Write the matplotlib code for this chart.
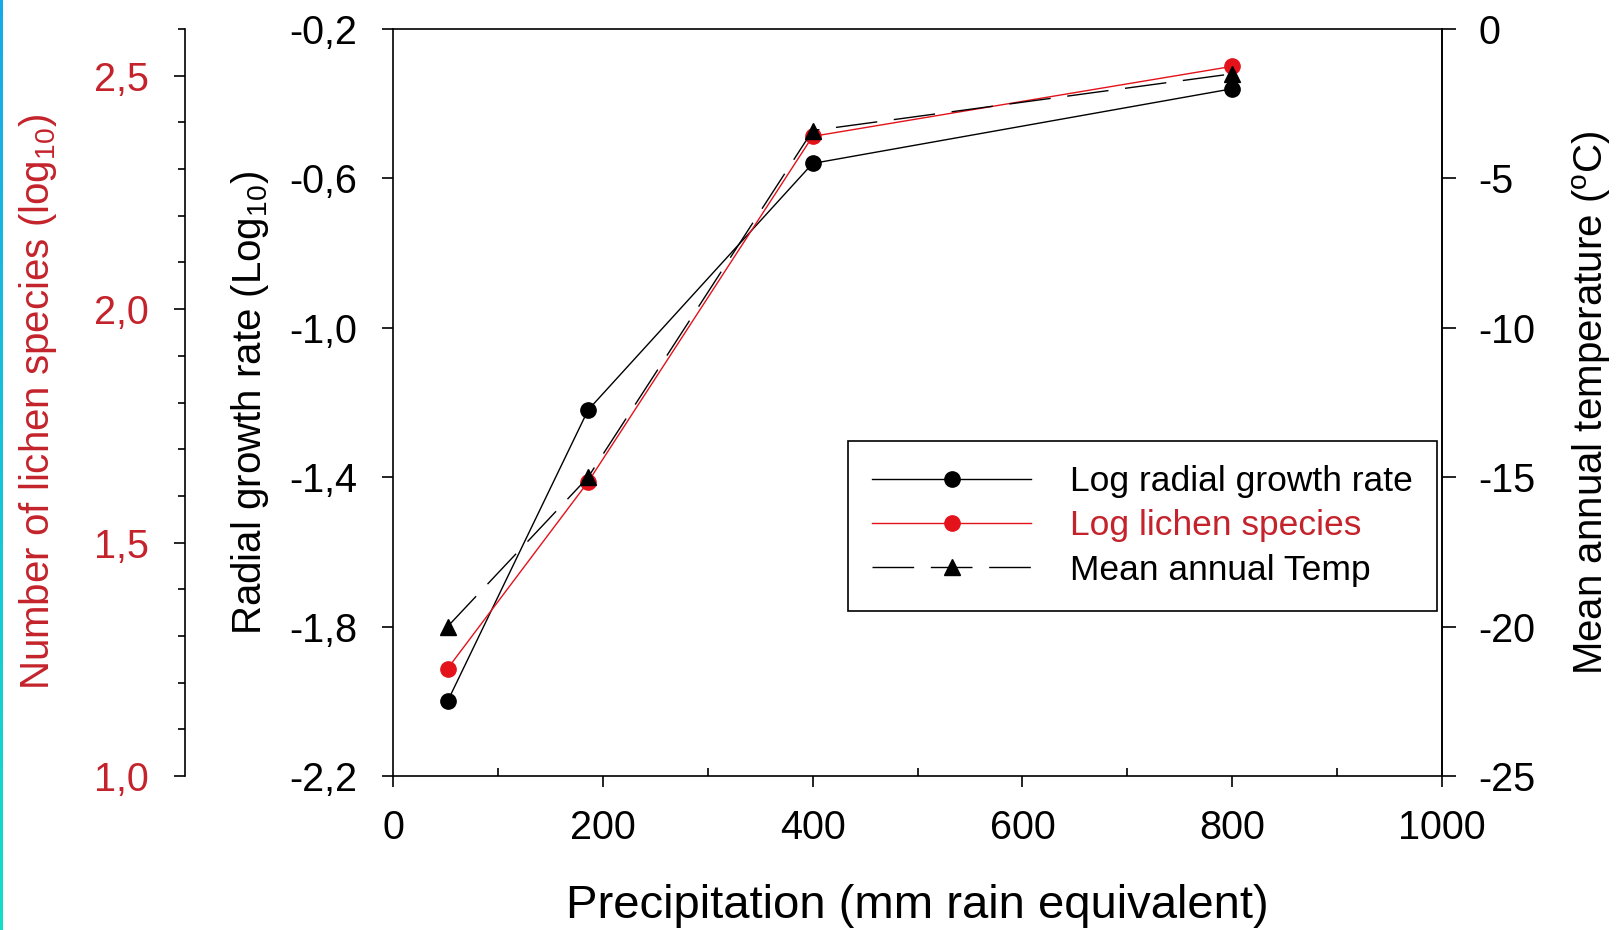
import matplotlib
matplotlib.use("Agg")
import matplotlib.pyplot as plt
import numpy as np
from matplotlib.ticker import FixedLocator, MultipleLocator, FuncFormatter
from matplotlib.colors import LinearSegmentedColormap

plt.rcParams["font.family"] = ["Liberation Sans", "DejaVu Sans"]
plt.rcParams["mathtext.fontset"] = "custom"
plt.rcParams["mathtext.rm"] = "Liberation Sans"
plt.rcParams["mathtext.it"] = "Liberation Sans:italic"

# ---- data ----
precip = [52, 186, 400, 800]                 # mm rain equivalent
growth_log = [-2.00, -1.22, -0.56, -0.36]    # log10 radial growth rate
lichen_log = [1.23, 1.63, 2.37, 2.52]        # log10 number of lichen species
mean_temp = [-20.0, -15.0, -3.4, -1.5]       # mean annual temperature (°C)

growth_ticks = [-2.2, -1.8, -1.4, -1.0, -0.6, -0.2]
lichen_ticks = [1.0, 1.5, 2.0, 2.5]
temp_ticks = [-25, -20, -15, -10, -5, 0]
precip_ticks = [0, 200, 400, 600, 800, 1000]

legend_labels = ["Log radial growth rate", "Log lichen species", "Mean annual Temp"]

RED_TEXT = "#C4232B"
RED_MARK = "#E3121B"
TICK_FS = 28.5
LABEL_FS = 29

W, H = 1618, 930
fig = plt.figure(figsize=(W / 100, H / 100), dpi=100)
fig.patch.set_facecolor("white")

L, R, T, B = 393, 1442, 29, 776
ax = fig.add_axes([L / W, 1 - B / H, (R - L) / W, (B - T) / H])


def comma(v, _pos=None):
    return f"{v:.1f}".replace(".", ",")


def plain_int(v, _pos=None):
    return f"{int(round(v))}"


# main axis: radial growth
ax.plot(precip, growth_log, color="black", lw=1.0, marker="o", ms=11,
        zorder=3, label=legend_labels[0])
ax.set_xlim(0, 1000)
ax.set_ylim(-2.2, -0.2)
ax.xaxis.set_major_locator(FixedLocator(precip_ticks))
ax.xaxis.set_minor_locator(MultipleLocator(100))
ax.xaxis.set_major_formatter(FuncFormatter(plain_int))
ax.yaxis.set_major_locator(FixedLocator(growth_ticks))
ax.yaxis.set_major_formatter(FuncFormatter(comma))
ax.tick_params(axis="x", which="major", direction="out", length=8, width=1.2,
               labelsize=TICK_FS, pad=16)
ax.tick_params(axis="x", which="minor", direction="in", length=6, width=1.2)
ax.tick_params(axis="y", which="major", direction="out", length=8, width=1.2,
               labelsize=TICK_FS, pad=18)
for s in ax.spines.values():
    s.set_linewidth(1.2)

# secondary left axis: lichen species (red)
ax_red = ax.twinx()
ax_red.set_ylim(1.0, 2.6)
for side in ("right", "top", "bottom"):
    ax_red.spines[side].set_visible(False)
ax_red.spines["left"].set_visible(True)
ax_red.spines["left"].set_position(("axes", (185 - L) / (R - L)))
ax_red.spines["left"].set_linewidth(1.2)
ax_red.yaxis.set_ticks_position("left")
ax_red.yaxis.set_major_locator(FixedLocator(lichen_ticks))
ax_red.yaxis.set_minor_locator(MultipleLocator(0.1))
ax_red.yaxis.set_major_formatter(FuncFormatter(comma))
ax_red.tick_params(axis="y", which="major", direction="out", length=8, width=1.2,
                   labelsize=TICK_FS, labelcolor=RED_TEXT, pad=18)
ax_red.tick_params(axis="y", which="minor", direction="out", length=5, width=1.2)
ax_red.plot(precip, lichen_log, color=RED_MARK, lw=1.0, marker="o", ms=11,
            zorder=3, label=legend_labels[1])

# right axis: temperature
ax_t = ax.twinx()
ax_t.set_ylim(-25, 0)
for side in ("left", "top", "bottom"):
    ax_t.spines[side].set_visible(False)
ax_t.spines["right"].set_linewidth(1.2)
ax_t.yaxis.set_major_locator(FixedLocator(temp_ticks))
ax_t.yaxis.set_major_formatter(FuncFormatter(plain_int))
ax_t.tick_params(axis="y", which="major", direction="out", length=10, width=1.2,
                 labelsize=TICK_FS, pad=16)
ax_t.plot(precip, mean_temp, color="black", lw=1.0, ls=(0, (30, 12)),
          marker="^", ms=11, zorder=3, label=legend_labels[2])

# axis titles
ax.text((250 - L) / (R - L), 0.5, r"Radial growth rate (Log$_{10}$)",
        transform=ax.transAxes, rotation=90, ha="center", va="center",
        fontsize=LABEL_FS)
ax.text((38 - L) / (R - L), 0.5, r"Number of lichen species (log$_{10}$)",
        transform=ax.transAxes, rotation=90, ha="center", va="center",
        fontsize=LABEL_FS, color=RED_TEXT)
ax.text((1592 - L) / (R - L), 0.5, r"Mean annual temperature ($^{\mathrm{o}}$C)",
        transform=ax.transAxes, rotation=90, ha="center", va="center",
        fontsize=LABEL_FS)
fig.text(((L + R) / 2) / W, 1 - 918 / H, "Precipitation (mm rain equivalent)",
         ha="center", va="baseline", fontsize=34)

# legend
handles = ax.get_lines() + ax_red.get_lines() + ax_t.get_lines()
leg = ax_t.legend(handles, legend_labels, loc="upper left",
                  bbox_to_anchor=(848 / W, 1 - 441 / H),
                  bbox_transform=fig.transFigure, borderaxespad=0,
                  fontsize=25.5, handlelength=4.5, handletextpad=1.1,
                  borderpad=0.68, labelspacing=0.32, fancybox=False,
                  framealpha=1, edgecolor="black")
leg.get_frame().set_linewidth(1.2)
for txt, col in zip(leg.get_texts(), ["black", RED_TEXT, "black"]):
    txt.set_color(col)

# thin coloured strip along the left edge
strip = fig.add_axes([0, 0, 2.5 / W, 1])
strip.axis("off")
cmap = LinearSegmentedColormap.from_list("edge", ["#17A9E8", "#12DEC8"])
strip.imshow(np.linspace(0, 1, 256).reshape(-1, 1), aspect="auto", cmap=cmap,
             extent=(0, 1, 0, 1), origin="upper")

fig.savefig("out.png", dpi=100)
